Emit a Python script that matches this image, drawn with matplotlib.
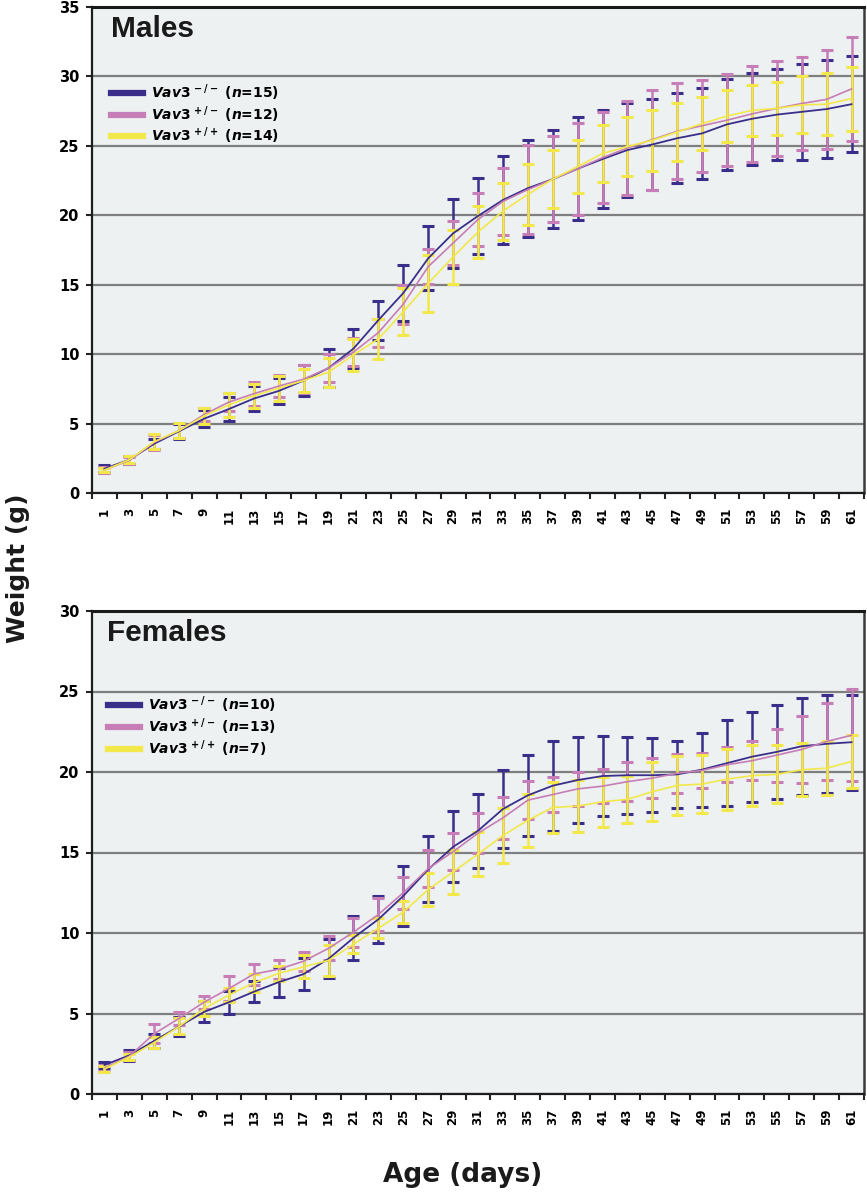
import matplotlib
matplotlib.use("Agg")
import matplotlib.pyplot as plt
from matplotlib.lines import Line2D
import numpy as np

plt.rcParams['font.family'] = ['DejaVu Sans']
plt.rcParams['mathtext.fontset'] = 'custom'
plt.rcParams['mathtext.it'] = 'DejaVu Sans:italic:bold'
plt.rcParams['mathtext.rm'] = 'DejaVu Sans:bold'
plt.rcParams['mathtext.bf'] = 'DejaVu Sans:bold'

days = list(range(1, 62, 2))

# ---- Males ----
male_ko_mean = [1.75, 2.4, 3.55, 4.45, 5.35, 6.05, 6.8, 7.35, 8.1, 9.0, 10.4, 12.45, 14.4, 16.9, 18.7,
                19.95, 21.1, 21.95, 22.6, 23.35, 24.05, 24.7, 25.1, 25.55, 25.9, 26.55, 26.95, 27.25,
                27.45, 27.65, 28.0]
male_ko_sd = [0.25, 0.3, 0.35, 0.55, 0.6, 0.85, 0.9, 0.95, 1.15, 1.35, 1.4, 1.4, 2.0, 2.3, 2.5,
              2.75, 3.15, 3.5, 3.55, 3.7, 3.5, 3.4, 3.3, 3.25, 3.3, 3.3, 3.3, 3.3, 3.45, 3.5, 3.45]
male_het_mean = [1.65, 2.35, 3.65, 4.5, 5.65, 6.55, 7.15, 7.7, 8.2, 9.0, 10.15, 11.55, 13.6, 16.3, 18.0,
                 19.7, 21.0, 21.85, 22.6, 23.35, 24.15, 24.85, 25.45, 26.05, 26.45, 26.85, 27.3, 27.7,
                 28.05, 28.35, 29.1]
male_het_sd = [0.2, 0.25, 0.55, 0.55, 0.5, 0.65, 0.85, 0.8, 1.0, 1.0, 1.0, 1.0, 1.4, 1.25, 1.6,
               1.9, 2.4, 3.2, 3.1, 3.3, 3.3, 3.4, 3.6, 3.45, 3.3, 3.3, 3.45, 3.4, 3.35, 3.55, 3.75]
male_wt_mean = [1.65, 2.4, 3.7, 4.5, 5.55, 6.35, 7.0, 7.55, 8.1, 8.7, 9.95, 11.1, 13.05, 15.1, 17.0,
                18.8, 20.3, 21.5, 22.6, 23.5, 24.45, 24.95, 25.4, 26.0, 26.6, 27.15, 27.55, 27.7,
                27.95, 28.0, 28.4]
male_wt_sd = [0.15, 0.25, 0.55, 0.55, 0.55, 0.85, 0.85, 0.9, 0.85, 1.05, 1.15, 1.45, 1.7, 2.05, 1.95,
              1.9, 2.05, 2.2, 2.1, 1.9, 2.05, 2.15, 2.2, 2.1, 1.9, 1.9, 1.85, 1.9, 2.05, 2.25, 2.3]

# ---- Females ----
fem_ko_mean = [1.8, 2.4, 3.3, 4.2, 5.1, 5.7, 6.35, 6.95, 7.45, 8.4, 9.7, 10.85, 12.3, 13.95, 15.35,
               16.35, 17.7, 18.55, 19.15, 19.5, 19.75, 19.8, 19.8, 19.85, 20.15, 20.55, 20.95, 21.25,
               21.6, 21.75, 21.85]
fem_ko_sd = [0.2, 0.35, 0.45, 0.6, 0.65, 0.7, 0.65, 0.9, 1.0, 1.2, 1.35, 1.45, 1.85, 2.05, 2.2,
             2.3, 2.4, 2.5, 2.8, 2.65, 2.5, 2.4, 2.3, 2.1, 2.3, 2.65, 2.8, 2.9, 3.0, 3.05, 2.95]
fem_het_mean = [1.6, 2.35, 3.75, 4.7, 5.7, 6.55, 7.45, 7.75, 8.25, 9.05, 10.05, 11.15, 12.5, 14.0, 15.05,
                16.2, 17.15, 18.25, 18.6, 18.95, 19.12, 19.4, 19.62, 19.92, 20.1, 20.45, 20.7, 21.05,
                21.4, 21.9, 22.28]
fem_het_sd = [0.2, 0.25, 0.6, 0.4, 0.4, 0.75, 0.65, 0.6, 0.6, 0.75, 0.9, 1.0, 1.0, 1.15, 1.15,
              1.25, 1.3, 1.2, 1.1, 1.05, 1.05, 1.2, 1.25, 1.2, 1.1, 1.1, 1.2, 1.65, 2.1, 2.4, 2.85]
fem_wt_mean = [1.55, 2.3, 3.2, 4.2, 5.3, 6.15, 6.9, 7.5, 7.9, 8.3, 9.3, 10.3, 11.3, 12.7, 13.8,
               14.9, 16.05, 17.0, 17.8, 17.88, 18.15, 18.3, 18.78, 19.17, 19.25, 19.56, 19.77, 19.85,
               20.14, 20.24, 20.65]
fem_wt_sd = [0.2, 0.2, 0.36, 0.5, 0.45, 0.42, 0.58, 0.48, 0.72, 0.95, 0.56, 0.62, 0.7, 1.0, 1.37,
             1.37, 1.69, 1.64, 1.58, 1.62, 1.54, 1.44, 1.84, 1.85, 1.78, 1.89, 1.89, 1.8, 1.64, 1.68, 1.63]

male_labels = [r'$Vav3^{\,-/-}$ ($n$=15)', r'$Vav3^{\,+/-}$ ($n$=12)', r'$Vav3^{\,+/+}$ ($n$=14)']
fem_labels = [r'$Vav3^{\,-/-}$ ($n$=10)', r'$Vav3^{\,+/-}$ ($n$=13)', r'$Vav3^{\,+/+}$ ($n$=7)']

C_KO = '#3a2e8a'
C_HET = '#c77db5'
C_WT = '#f2e84a'
BG = '#edf1f2'
GRID = '#7f7f7f'

fig = plt.figure(figsize=(8.67, 11.99), dpi=100)

def panel(rect, title, series, labels, ymax, legend_anchor, title_x):
    ax = fig.add_axes(rect)
    ax.set_facecolor(BG)
    x = np.arange(len(days))
    for (m, s, c, lw) in series:
        ax.errorbar(x, m, yerr=s, color=c, lw=lw, elinewidth=1.8, capsize=4.5,
                    capthick=2.2, zorder=3)
    ax.set_xlim(-0.5, len(days) - 0.5)
    ax.set_ylim(0, ymax)
    ax.set_yticks(np.arange(0, ymax + 1, 5))
    ax.yaxis.grid(True, color=GRID, lw=1.6, zorder=0)
    ax.set_axisbelow(True)
    ax.set_xticks(x)
    ax.set_xticklabels([str(d) for d in days], rotation=90, fontsize=8.5, fontweight='bold')
    ax.tick_params(axis='x', which='major', length=0, pad=10.5)
    ax.set_xticks(np.arange(-0.5, len(days)), minor=True)
    ax.tick_params(axis='x', which='minor', length=4, width=1.5, color='#222222')
    ax.tick_params(axis='y', length=4, width=1.5, color='#222222', pad=5)
    for lab in ax.get_yticklabels():
        lab.set_fontweight('bold')
        lab.set_fontsize(10.5)
    for sp in ['left', 'bottom']:
        ax.spines[sp].set_color('#1e1e1e')
        ax.spines[sp].set_linewidth(1.6)
    ax.spines['top'].set_color('#1a1a1a')
    ax.spines['top'].set_linewidth(2.2)
    ax.spines['right'].set_color('#3a3a3a')
    ax.spines['right'].set_linewidth(1.8)
    ax.text(title_x, 0.984, title, transform=ax.transAxes, ha='left', va='top',
            fontsize=21.5, fontweight='bold', family='Liberation Sans', color='#1a1a1a')
    handles = [Line2D([], [], color=c, lw=4.5) for (_, _, c, _) in series]
    ax.legend(handles, labels, loc='upper left', bbox_to_anchor=legend_anchor,
              frameon=False, prop={'weight': 'bold', 'size': 10},
              handlelength=2.3, handletextpad=0.55, labelspacing=0.08,
              borderaxespad=0, borderpad=0)
    return ax

panel([92 / 867, 1 - 493 / 1199, 772 / 867, 486 / 1199], 'Males',
      [(male_ko_mean, male_ko_sd, C_KO, 1.3), (male_het_mean, male_het_sd, C_HET, 1.2),
       (male_wt_mean, male_wt_sd, C_WT, 1.2)],
      male_labels, 35, (0.025, 0.845), 0.025)

panel([92 / 867, 1 - 1094 / 1199, 772 / 867, 483 / 1199], 'Females',
      [(fem_ko_mean, fem_ko_sd, C_KO, 1.3), (fem_het_mean, fem_het_sd, C_HET, 1.2),
       (fem_wt_mean, fem_wt_sd, C_WT, 1.2)],
      fem_labels, 30, (0.021, 0.827), 0.02)

fig.text(18 / 867, 1 - 568 / 1199, 'Weight (g)', rotation=90, ha='center', va='center',
         fontsize=18, fontweight='bold', color='#1a1a1a')
fig.text(0.534, 0.02, 'Age (days)', ha='center', va='center',
         fontsize=19, fontweight='bold', color='#1a1a1a')

fig.savefig('out.png', dpi=100)
